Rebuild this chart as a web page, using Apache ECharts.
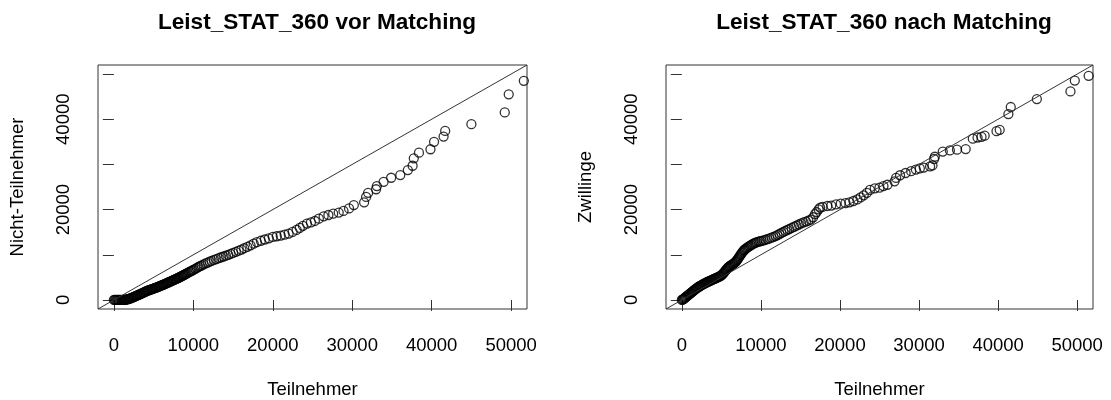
<!DOCTYPE html>
<html>
<head>
<meta charset="utf-8">
<script src="https://cdn.jsdelivr.net/npm/echarts@6/dist/echarts.min.js"></script>
<style>
  html, body { margin: 0; padding: 0; background: #fff; }
  #main { width: 1111px; height: 400px; }
</style>
</head>
<body>
<div id="main"></div>
<script>
// Achsen-Ticks (beide Panels gleich); R laesst ueberlappende y-Beschriftungen weg
var tickValues = [0, 10000, 20000, 30000, 40000, 50000];
var xLabelValues = [0, 10000, 20000, 30000, 40000, 50000];
var yLabelValues = [0, 20000, 40000];
var axisMin = -2000;
var axisMax = 52000;

// Panel 1: vor Matching (Teilnehmer vs. Nicht-Teilnehmer Quantile)
var teilnehmerVor = [0, 100, 200, 300, 400, 500, 600, 700, 800, 900, 1000, 1100, 1200, 1300, 1400, 1500, 1600, 1700, 1800, 1900,
  2000, 2100, 2200, 2300, 2400, 2500, 2600, 2700, 2800, 2900, 3000, 3100, 3200, 3300, 3400, 3500, 3600, 3700, 3800, 3900,
  4000, 4100, 4200, 4300, 4400, 4500, 4600, 4700, 4800, 4900, 5000, 5100, 5200, 5300, 5400, 5500, 5600, 5700, 5800, 5900,
  6000, 6100, 6200, 6300, 6400, 6500, 6600, 6700, 6800, 6900, 7000, 7100, 7200, 7300, 7400, 7500, 7600, 7700, 7800, 7900,
  8000, 8100, 8200, 8300, 8400, 8500, 8600, 8700, 8800, 8900, 9000, 9150, 9300, 9450, 9600, 9750, 9900, 10050, 10250, 10450,
  10650, 10850, 11050, 11300, 11550, 11800, 12050, 12300, 12600, 12900, 13200, 13500, 13800, 14100, 14400, 14700, 15000, 15350, 15700, 16050,
  16400, 16800, 17200, 17600, 18000, 18500, 19000, 19500, 20000, 20500, 21000, 21500, 22000, 22500, 23000, 23400, 23800, 24300, 24800, 25300,
  25800, 26400, 27000, 27600, 28300, 28900, 29600, 30200, 31500, 31750, 32000, 33000, 33100, 33950, 34900, 36050, 37000, 37600, 37750, 38400,
  39850, 40300, 41500, 41700, 45000, 49200, 49700, 51600];
var nichtTeilnehmer = [0, 0, 0, 0, 0, 0, 0, 0, 0, 0, 0, 5, 15, 30, 50, 75, 110, 150, 195, 250,
  310, 375, 445, 515, 585, 660, 740, 820, 900, 980, 1060, 1135, 1210, 1290, 1370, 1450, 1535, 1620, 1700, 1790,
  1870, 1950, 2020, 2090, 2160, 2225, 2290, 2350, 2410, 2470, 2530, 2600, 2665, 2730, 2795, 2860, 2930, 3000, 3075, 3150,
  3220, 3295, 3370, 3450, 3525, 3600, 3680, 3760, 3840, 3920, 4000, 4080, 4160, 4240, 4320, 4400, 4480, 4560, 4640, 4720,
  4800, 4885, 4970, 5060, 5150, 5245, 5340, 5430, 5525, 5620, 5715, 5860, 6000, 6140, 6280, 6420, 6560, 6700, 6900, 7100,
  7300, 7490, 7670, 7880, 8080, 8280, 8470, 8650, 8850, 9050, 9250, 9450, 9620, 9800, 9980, 10180, 10400, 10650, 10900, 11150,
  11450, 11750, 12100, 12450, 12800, 13100, 13380, 13650, 13950, 14100, 14250, 14450, 14700, 15050, 15500, 15950, 16400, 16900, 17150, 17480,
  18000, 18500, 18800, 19100, 19350, 19700, 20250, 21000, 21600, 22800, 23700, 24500, 25200, 26150, 27050, 27650, 28750, 29700, 31350, 32600,
  33350, 35000, 36150, 37400, 38900, 41500, 45500, 48500];

// Panel 2: nach Matching (Teilnehmer vs. Zwillinge Quantile)
var teilnehmerNach = [0, 80, 160, 240, 320, 400, 480, 560, 650, 740, 830, 920, 1010, 1100, 1200, 1300, 1400, 1500, 1600, 1700,
  1800, 1900, 2000, 2100, 2200, 2300, 2400, 2500, 2600, 2700, 2800, 2900, 3000, 3100, 3200, 3300, 3400, 3500, 3600, 3700,
  3800, 3900, 4000, 4100, 4200, 4300, 4400, 4500, 4600, 4700, 4800, 4900, 5000, 5100, 5200, 5300, 5400, 5500, 5600, 5700,
  5800, 5900, 6000, 6100, 6200, 6300, 6400, 6500, 6600, 6700, 6800, 6900, 7000, 7100, 7200, 7300, 7400, 7500, 7600, 7700,
  7800, 7900, 8000, 8150, 8300, 8450, 8600, 8750, 8900, 9050, 9200, 9350, 9500, 9700, 9900, 10100, 10350, 10600, 10850, 11100,
  11350, 11600, 11850, 12100, 12350, 12600, 12850, 13100, 13350, 13600, 13900, 14200, 14500, 14800, 15100, 15400, 15700, 16000, 16300, 16600,
  16850, 17050, 17300, 17500, 17800, 18400, 18900, 19500, 20100, 20700, 21200, 21700, 22200, 22600, 23000, 23400, 23800, 24400, 25000, 25500,
  26000, 26900, 27100, 27600, 28300, 29000, 29600, 30100, 30600, 31400, 31700, 31900, 32000, 33000, 33900, 34800, 35900, 36800, 37400, 37900,
  38300, 39800, 40200, 41300, 41600, 44900, 49150, 49700, 51450];
var zwillinge = [0, 60, 150, 260, 370, 480, 600, 720, 850, 980, 1110, 1240, 1370, 1500, 1640, 1790, 1930, 2070, 2220, 2360,
  2500, 2630, 2750, 2870, 2980, 3090, 3190, 3290, 3390, 3490, 3590, 3680, 3770, 3860, 3950, 4030, 4110, 4190, 4270, 4350,
  4430, 4510, 4590, 4670, 4750, 4830, 4910, 4990, 5070, 5160, 5250, 5350, 5460, 5620, 5800, 6000, 6220, 6440, 6660, 6880,
  7070, 7240, 7390, 7520, 7640, 7760, 7880, 8000, 8120, 8250, 8420, 8620, 8850, 9100, 9370, 9640, 9900, 10160, 10420, 10660,
  10880, 11060, 11220, 11420, 11620, 11800, 11970, 12130, 12300, 12450, 12570, 12680, 12780, 12890, 12990, 13080, 13200, 13330, 13470, 13620,
  13780, 13950, 14150, 14370, 14600, 14830, 15050, 15270, 15490, 15700, 15950, 16200, 16450, 16700, 16950, 17150, 17350, 17550, 17800, 18300,
  19000, 19450, 20050, 20450, 20600, 20800, 20900, 21150, 21300, 21450, 21600, 21900, 22250, 22700, 23150, 23700, 24350, 24700, 24850, 25200,
  25500, 26250, 27000, 27600, 28100, 28500, 28850, 29100, 29300, 29550, 29800, 31200, 31700, 32850, 33100, 33250, 33400, 35700, 35950, 36100,
  36350, 37350, 37650, 41150, 42700, 44450, 46150, 48550, 49600];

// Winkelhalbierende y = x
var diagonale = [axisMin, axisMax];

function paare(xs, ys) {
  var out = [];
  for (var i = 0; i < xs.length; i++) out.push([xs[i], ys[i]]);
  return out;
}

var schrift = 'Liberation Sans, Arial, Helvetica, sans-serif';

function achse(gridIndex, name, isY) {
  return {
    type: 'value',
    gridIndex: gridIndex,
    min: axisMin,
    max: axisMax,
    name: name,
    nameLocation: 'middle',
    nameGap: 71,
    nameTextStyle: { fontFamily: schrift, fontSize: 18.5, color: '#000' },
    splitLine: { show: false },
    axisLine: { show: false },
    axisTick: {
      show: true,
      length: 11,
      customValues: tickValues,
      lineStyle: { color: '#333', width: 1 }
    },
    axisLabel: {
      customValues: isY ? yLabelValues : xLabelValues,
      formatter: function (v) { return String(v); },
      rotate: isY ? 90 : 0,
      margin: isY ? 25 : 27,
      fontFamily: schrift,
      fontSize: 18.5,
      color: '#000'
    }
  };
}

var myChart = echarts.init(document.getElementById('main'));

var kreise = {
  symbol: 'circle',
  symbolSize: 9,
  itemStyle: { color: 'transparent', borderColor: '#000', borderWidth: 1.3 }
};

myChart.setOption({
  animation: false,
  backgroundColor: '#fff',
  title: [
    {
      text: 'Leist_STAT_360 vor Matching',
      left: 312, top: 6, textAlign: 'center',
      textStyle: { fontFamily: schrift, fontSize: 22.6, fontWeight: 'bold', color: '#000' }
    },
    {
      text: 'Leist_STAT_360 nach Matching',
      left: 879, top: 6, textAlign: 'center',
      textStyle: { fontFamily: schrift, fontSize: 22.6, fontWeight: 'bold', color: '#000' }
    }
  ],
  grid: [
    { left: 98, top: 65, right: 584, bottom: 91, show: true, borderColor: '#333', borderWidth: 1, outerBoundsMode: 'none' },
    { left: 666, top: 65, right: 18, bottom: 91, show: true, borderColor: '#333', borderWidth: 1, outerBoundsMode: 'none' }
  ],
  xAxis: [achse(0, 'Teilnehmer', false), achse(1, 'Teilnehmer', false)],
  yAxis: [achse(0, 'Nicht-Teilnehmer', true), achse(1, 'Zwillinge', true)],
  series: [
    {
      type: 'line', xAxisIndex: 0, yAxisIndex: 0,
      data: paare(diagonale, diagonale),
      symbol: 'none', silent: true,
      lineStyle: { color: '#333', width: 1 }
    },
    Object.assign({ type: 'scatter', xAxisIndex: 0, yAxisIndex: 0, data: paare(teilnehmerVor, nichtTeilnehmer) }, kreise),
    {
      type: 'line', xAxisIndex: 1, yAxisIndex: 1,
      data: paare(diagonale, diagonale),
      symbol: 'none', silent: true,
      lineStyle: { color: '#333', width: 1 }
    },
    Object.assign({ type: 'scatter', xAxisIndex: 1, yAxisIndex: 1, data: paare(teilnehmerNach, zwillinge) }, kreise)
  ]
});

window.onresize = function () {
  myChart.resize();
};
</script>
</body>
</html>
